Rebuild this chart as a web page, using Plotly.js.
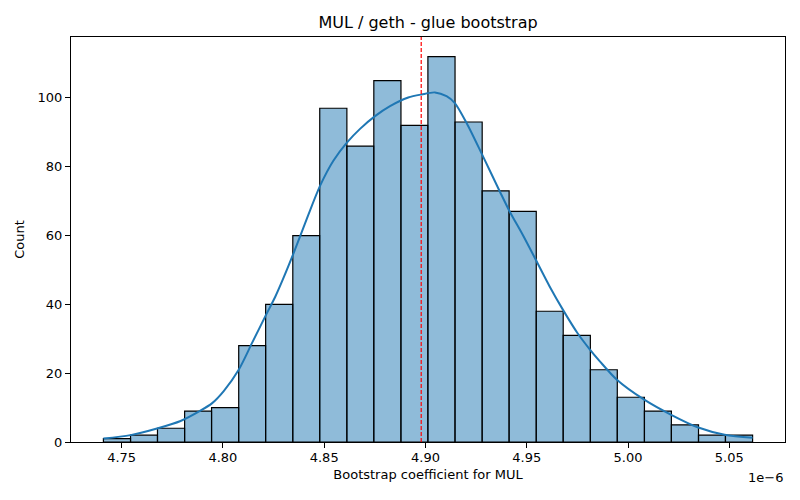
<!DOCTYPE html>
<html>
<head>
<meta charset="utf-8">
<script src="https://cdn.plot.ly/plotly-3.0.1.min.js"></script>
<style>
  html, body { margin: 0; padding: 0; background: #fff; }
  #chart { width: 800px; height: 500px; }
</style>
</head>
<body>
<div id="chart"></div>
<script>
// Bootstrap histogram + KDE for the MUL coefficient (x values in units of 1e-6).
const binEdges = [
  4.7410, 4.7544, 4.7677, 4.7811, 4.7944, 4.8078, 4.8211, 4.8345, 4.8478,
  4.8612, 4.8745, 4.8879, 4.9012, 4.9146, 4.9280, 4.9413, 4.9547, 4.9680,
  4.9814, 4.9947, 5.0081, 5.0214, 5.0348, 5.0481, 5.0615
];
const binCounts = [1, 2, 4, 9, 10, 28, 40, 60, 97, 86, 105, 92, 112, 93, 73, 67, 38, 31, 21, 13, 9, 5, 2, 2];

// KDE curve
const kdeX = [
  4.7410, 4.7544, 4.7679, 4.7791, 4.7889, 4.7947, 4.8004, 4.8078, 4.8144,
  4.8209, 4.8259, 4.8297, 4.8349, 4.8415, 4.8480, 4.8546, 4.8612, 4.8677,
  4.8751, 4.8825, 4.8915, 4.8981, 4.9047, 4.9104, 4.9145, 4.9203, 4.9280,
  4.9367, 4.9413, 4.9482, 4.9546, 4.9613, 4.9679, 4.9751, 4.9810, 4.9860,
  4.9945, 5.0080, 5.0213, 5.0347, 5.0477, 5.0615
];
const kdeY = [
  1.0, 2.0, 4.0, 6.1, 9.1, 11.3, 14.8, 21.0, 28.8,
  36.5, 42.3, 47.4, 54.9, 65.0, 74.5, 81.8, 87.0, 91.0,
  94.7, 97.6, 100.1, 101.0, 101.6, 100.5, 98.5, 92.7, 83.5,
  72.8, 67.3, 60.0, 52.8, 45.2, 38.4, 31.6, 27.0, 23.5,
  18.1, 12.3, 7.9, 4.2, 2.1, 1.2
];
const meanValue = 4.8979;

const xRange = [4.7250, 5.0775];
const yRange = [0, 117.7];

const binLeft = binEdges.slice(0, -1);
const binWidth = binLeft.map((e, i) => binEdges[i + 1] - e);

const FONT = "DejaVu Sans, Liberation Sans, sans-serif";

const traces = [
  {
    type: "bar",
    x: binLeft, y: binCounts,
    width: binWidth, offset: 0,
    marker: { color: "rgba(31,119,180,0.5)", line: { color: "#000", width: 1.2 } },
    showlegend: false, hoverinfo: "x+y",
  },
  {
    type: "scatter", mode: "lines",
    x: kdeX, y: kdeY,
    line: { color: "#1f77b4", width: 2, shape: "spline", smoothing: 0.8 },
    showlegend: false,
  },
];

const axisBase = {
  showline: true, mirror: true, linecolor: "#000", linewidth: 1,
  ticks: "outside", ticklen: 5, tickwidth: 1, tickcolor: "#000",
  showgrid: false, zeroline: false,
  tickfont: { family: FONT, size: 13, color: "#000" },
};

const layout = {
  width: 800, height: 500,
  paper_bgcolor: "#fff", plot_bgcolor: "#fff",
  margin: { l: 71, r: 15, t: 37, b: 58 },
  title: {
    text: "MUL / geth - glue bootstrap",
    font: { family: FONT, size: 16, color: "#000" },
    x: 0.535, xanchor: "center", y: 0.955, yanchor: "middle",
  },
  xaxis: {
    ...axisBase,
    range: xRange, dtick: 0.05, tick0: 4.75, tickformat: ".2f",
    ticklabelstandoff: -2,
    title: { text: "Bootstrap coefficient for MUL", font: { family: FONT, size: 13, color: "#000" }, standoff: 6 },
  },
  yaxis: {
    ...axisBase,
    range: yRange, dtick: 20,
    title: { text: "Count", font: { family: FONT, size: 13, color: "#000" }, standoff: 10 },
  },
  shapes: [{
    type: "line", xref: "x", yref: "paper", layer: "above",
    x0: meanValue, x1: meanValue, y0: 0, y1: 1,
    line: { color: "#ff0000", width: 1.2, dash: "4px,2px" },
  }],
  annotations: [{
    text: "1e\u22126", xref: "paper", yref: "paper",
    x: 1, y: 0, xanchor: "right", yanchor: "top", yshift: -26,
    showarrow: false, font: { family: FONT, size: 13, color: "#000" },
  }],
};

Plotly.newPlot("chart", traces, layout, { displayModeBar: false, staticPlot: true });
</script>
</body>
</html>
